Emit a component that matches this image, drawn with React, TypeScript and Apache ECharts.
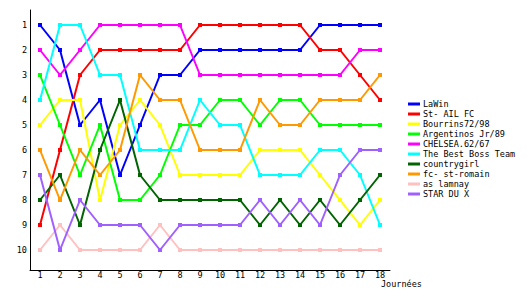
import React, { useEffect, useRef } from "react";
import * as echarts from "echarts";

const journees = ["1","2","3","4","5","6","7","8","9","10","11","12","13","14","15","16","17","18"];
const rankLabels = [1, 2, 3, 4, 5, 6, 7, 8, 9, 10];
const xAxisTitle = "Journées";

const teamNames = [
  "LaWin",
  "St- AIL FC",
  "Bourrins72/98",
  "Argentinos Jr/89",
  "CHELSEA.62/67",
  "The Best Boss Team",
  "countrygirl",
  "fc- st-romain",
  "as lamnay",
  "STAR DU X",
];

const teamColors = [
  "#0000ff",
  "#ff0000",
  "#ffff00",
  "#00ff00",
  "#ff00ff",
  "#00ffff",
  "#006400",
  "#ff9900",
  "#ffc0c0",
  "#a060ff",
];

const laWin = [1, 2, 5, 4, 7, 5, 3, 3, 2, 2, 2, 2, 2, 2, 1, 1, 1, 1];
const stAil = [9, 6, 3, 2, 2, 2, 2, 2, 1, 1, 1, 1, 1, 1, 2, 2, 3, 4];
const bourrins = [5, 4, 4, 8, 5, 4, 5, 7, 7, 7, 7, 6, 6, 6, 7, 8, 9, 8];
const argentinos = [3, 5, 7, 5, 8, 8, 7, 5, 5, 4, 4, 5, 4, 4, 5, 5, 5, 5];
const chelsea = [2, 3, 2, 1, 1, 1, 1, 1, 3, 3, 3, 3, 3, 3, 3, 3, 2, 2];
const bestBoss = [4, 1, 1, 3, 3, 6, 6, 6, 4, 5, 5, 7, 7, 7, 6, 6, 7, 9];
const countrygirl = [8, 7, 9, 6, 4, 7, 8, 8, 8, 8, 8, 9, 8, 9, 8, 9, 8, 7];
const stRomain = [6, 8, 6, 7, 6, 3, 4, 4, 6, 6, 6, 4, 5, 5, 4, 4, 4, 3];
const lamnay = [10, 9, 10, 10, 10, 10, 9, 10, 10, 10, 10, 10, 10, 10, 10, 10, 10, 10];
const starDuX = [7, 10, 8, 9, 9, 9, 10, 9, 9, 9, 9, 8, 9, 8, 9, 7, 6, 6];

const teamRanks = [laWin, stAil, bourrins, argentinos, chelsea, bestBoss, countrygirl, stRomain, lamnay, starDuX];

const FONT = "DejaVu Sans Mono";

export default function App() {
  const ref = useRef<HTMLDivElement>(null);
  useEffect(() => {
    if (!ref.current) return;
    const chart = echarts.init(ref.current, undefined, { renderer: "svg" });
    chart.setOption({
      animation: false,
      backgroundColor: "#ffffff",
      textStyle: { fontFamily: FONT, fontSize: 8.5, color: "#000" },
      grid: { left: 30, top: 10, width: 360, height: 260 },
      legend: {
        orient: "vertical",
        left: 408,
        top: 99,
        itemWidth: 12,
        itemHeight: 3,
        itemGap: 0,
        padding: 0,
        icon: "rect",
        data: teamNames,
        textStyle: { fontFamily: FONT, fontSize: 8.5, color: "#000", lineHeight: 10, padding: [0, 0, 0, -2] },
      },
      graphic: [
        {
          type: "text",
          left: 381,
          top: 279,
          style: { text: xAxisTitle, fontFamily: FONT, fontSize: 8.5, fill: "#000" },
        },
      ],
      xAxis: {
        type: "category",
        data: journees,
        boundaryGap: true,
        axisLine: { lineStyle: { color: "#000", width: 1 } },
        axisTick: { show: false },
        axisLabel: { margin: 0, color: "#000", fontFamily: FONT, fontSize: 8.5, interval: 0 },
        splitLine: { show: false },
      },
      yAxis: {
        type: "value",
        inverse: true,
        min: 0.4,
        max: 10.8,
        axisLine: { show: true, lineStyle: { color: "#000", width: 1 } },
        axisTick: { show: false },
        axisLabel: { margin: 3, color: "#000", fontFamily: FONT, fontSize: 8.5, customValues: rankLabels },
        splitLine: { show: false },
      },
      series: teamNames.map((name, i) => ({
        name,
        type: "line",
        data: teamRanks[i],
        symbol: "rect",
        symbolSize: 4,
        showSymbol: true,
        lineStyle: { color: teamColors[i], width: 2 },
        itemStyle: { color: teamColors[i] },
        emphasis: { disabled: true },
      })),
    });
    return () => chart.dispose();
  }, []);
  return <div ref={ref} style={{ width: 530, height: 300, position: "absolute", left: 0, top: 0 }} />;
}
